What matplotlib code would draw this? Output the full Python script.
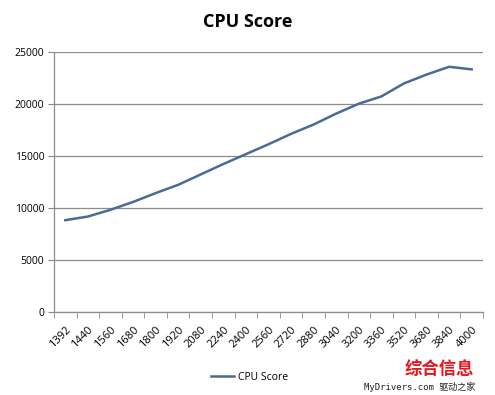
import numpy as np
import matplotlib.pyplot as plt

# clock speeds (MHz) and scores
clocks = ["1392", "1440", "1560", "1680", "1800", "1920", "2080", "2240", "2400", "2560",
          "2720", "2880", "3040", "3200", "3360", "3520", "3680", "3840", "4000"]
scores = [8800, 9150, 9800, 10550, 11400, 12200, 13200, 14200, 15150, 16100,
          17100, 18000, 19050, 20000, 20700, 21950, 22800, 23550, 23300]

plt.rcParams['font.family'] = ['Open Sans', 'DejaVu Sans']

fig = plt.figure(figsize=(4.95, 3.95), dpi=100)
ax = fig.add_axes([54 / 495, 1 - 311.7 / 395, (483 - 54) / 495, (311.7 - 51.7) / 395])

x = np.arange(len(clocks))
line, = ax.plot(x, scores, color="#4a6b95", lw=1.8, label="CPU Score")

ax.set_xlim(-0.5, len(clocks) - 0.5)
ax.set_ylim(0, 25000)
ax.set_yticks(range(0, 25001, 5000))
ax.tick_params(axis="y", labelsize=7.5, length=4, color="#888888", direction="out", pad=3)
ax.yaxis.grid(True, color="#8c8c8c", lw=0.9)
ax.set_axisbelow(True)

ax.set_xticks(x)
ax.set_xticklabels(clocks, rotation=45, ha="right", rotation_mode="anchor", fontsize=8)
ax.set_xticks(np.arange(-0.5, len(clocks)), minor=True)
ax.tick_params(axis="x", which="major", length=0, pad=9)
ax.tick_params(axis="x", which="minor", length=4, color="#888888", direction="out")

for s in ["top", "right"]:
    ax.spines[s].set_visible(False)
for s in ["left", "bottom"]:
    ax.spines[s].set_color("#8c8c8c")
    ax.spines[s].set_linewidth(0.9)

fig.text(0.5, 1 - 22 / 395, "CPU Score", ha="center", va="center", fontsize=13, fontweight="bold")

fig.legend(handles=[line], loc="center", bbox_to_anchor=(250 / 495, 1 - 377 / 395),
           frameon=False, fontsize=7.5, handlelength=2.2, handletextpad=0.4)

# watermark
fig.text(364 / 495, 1 - 387 / 395, "MyDrivers.com 驱动之家", fontsize=6.5,
         family=["DejaVu Sans Mono", "Noto Sans CJK SC"], va="center", color="#222222")
fig.text(405 / 495, 1 - 370 / 395, "综合信息", fontsize=12.5, fontweight="bold",
         family=["Noto Sans CJK SC"], color="#e8141e", va="center")

fig.savefig("out.png", dpi=100)
